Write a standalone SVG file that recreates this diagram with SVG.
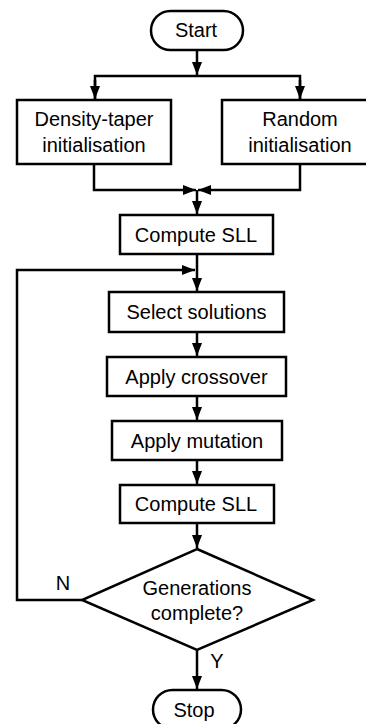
<svg xmlns="http://www.w3.org/2000/svg" width="366" height="724" viewBox="0 0 366 724">
<style>
.box{fill:#fff;stroke:#000;stroke-width:2.5}
.ln{fill:none;stroke:#000;stroke-width:2.5}
text{font-family:"Liberation Sans",Arial,Helvetica,sans-serif;font-size:20px;fill:#000;text-anchor:middle}
</style>
<defs>
<marker id="ah" markerUnits="userSpaceOnUse" markerWidth="14" markerHeight="11" refX="13" refY="5" orient="auto">
<path d="M0,0 L13,5 L0,10 z" fill="#000"/>
</marker>
</defs>
<rect width="366" height="724" fill="#fff"/>
<g id="connectors">
<line class="ln" x1="197" y1="50" x2="197" y2="75" marker-end="url(#ah)"/>
<polyline class="ln" points="95,99 95,76 300,76 300,99"/>
<line class="ln" x1="95" y1="80" x2="95" y2="99" marker-end="url(#ah)"/>
<line class="ln" x1="300" y1="80" x2="300" y2="99" marker-end="url(#ah)"/>
<polyline class="ln" points="94,164 94,190 196,190" marker-end="url(#ah)"/>
<polyline class="ln" points="300,164 300,190 198,190" marker-end="url(#ah)"/>
<line class="ln" x1="197" y1="190" x2="197" y2="214" marker-end="url(#ah)"/>
<line class="ln" x1="197" y1="254" x2="197" y2="291" marker-end="url(#ah)"/>
<polyline class="ln" points="82,600 17,600 17,270 195,270" marker-end="url(#ah)"/>
<line class="ln" x1="197" y1="332" x2="197" y2="356" marker-end="url(#ah)"/>
<line class="ln" x1="197" y1="396" x2="197" y2="420" marker-end="url(#ah)"/>
<line class="ln" x1="197" y1="460" x2="197" y2="484" marker-end="url(#ah)"/>
<line class="ln" x1="197" y1="523" x2="197" y2="548" marker-end="url(#ah)"/>
<line class="ln" x1="197" y1="650" x2="197" y2="689" marker-end="url(#ah)"/>
<text x="63" y="590">N</text>
<text x="217" y="668">Y</text>
</g>
<g id="start">
<rect class="box" x="151" y="11" width="92" height="39" rx="19.5"/>
<text x="196" y="37">Start</text>
</g>
<g id="density">
<rect class="box" x="17" y="100" width="154" height="64"/>
<text x="94" y="125.5">Density-taper</text>
<text x="94" y="151.5">initialisation</text>
</g>
<g id="random">
<rect class="box" x="222" y="100" width="156" height="64"/>
<text x="300" y="126">Random</text>
<text x="300" y="151.5">initialisation</text>
</g>
<g id="compute1">
<rect class="box" x="120" y="215" width="153" height="39"/>
<text x="196" y="241.5">Compute SLL</text>
</g>
<g id="select">
<rect class="box" x="109" y="292" width="175" height="40"/>
<text x="196.5" y="319">Select solutions</text>
</g>
<g id="crossover">
<rect class="box" x="107" y="357" width="179" height="39"/>
<text x="196.5" y="383.5">Apply crossover</text>
</g>
<g id="mutation">
<rect class="box" x="112" y="421" width="170" height="39"/>
<text x="197" y="447.5">Apply mutation</text>
</g>
<g id="compute2">
<rect class="box" x="120" y="485" width="154" height="38"/>
<text x="196" y="511">Compute SLL</text>
</g>
<g id="decision">
<polygon class="box" points="197,549 313,600 197,650 82,600"/>
<text x="197" y="595">Generations</text>
<text x="197" y="620">complete?</text>
</g>
<g id="stop">
<rect class="box" x="153" y="690" width="88" height="39" rx="19.5"/>
<text x="194" y="717">Stop</text>
</g>
</svg>
